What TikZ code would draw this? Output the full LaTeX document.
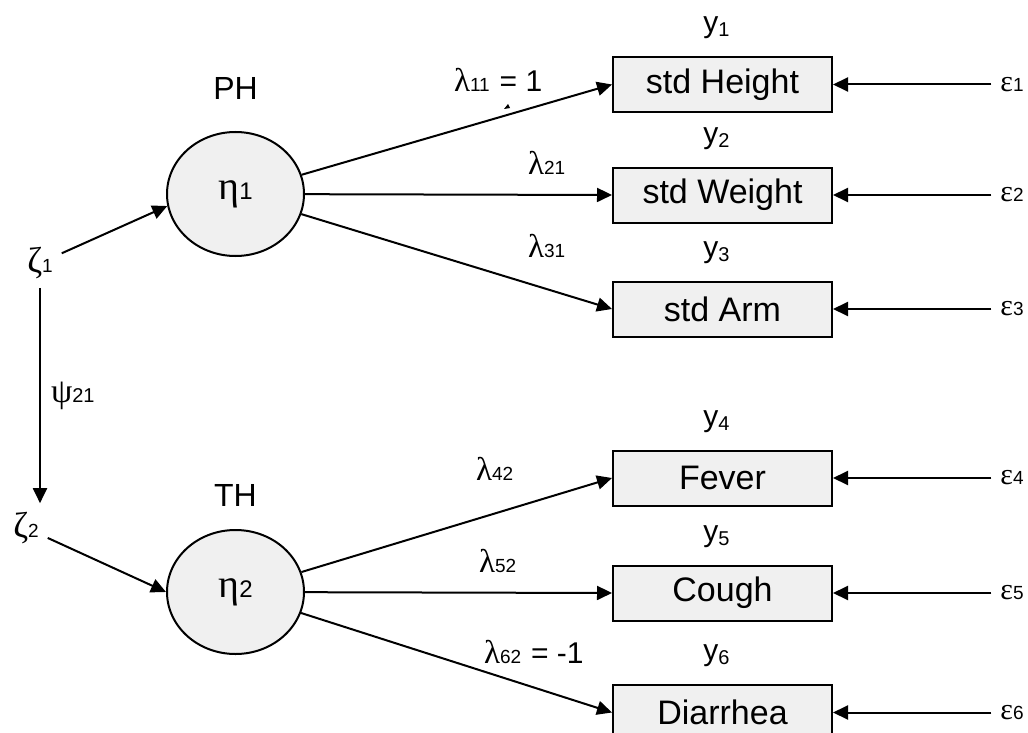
\documentclass[tikz,border=0pt]{standalone}
\usepackage{fontspec}
\setmainfont{Liberation Sans}
\newfontfamily\greekf{Liberation Serif}
\usetikzlibrary{positioning,shapes.geometric,arrows.meta}
\definecolor{fillgrey}{HTML}{F0F0F0}
\newcommand{\gsym}[2]{{\greekf\fontsize{#1}{#1}\selectfont #2}}
\newcommand{\dig}[2]{{\fontsize{#1}{#1}\selectfont #2}}

\begin{document}
\begin{tikzpicture}[x=0.5pt,y=-0.5pt,line width=1pt,>={Triangle[length=7.5pt,width=7pt]},
  obs/.style={draw,fill=fillgrey,minimum width=109.5pt,minimum height=27.5pt,inner sep=0pt,font=\fontsize{17}{17}\selectfont},
  lat/.style={draw,fill=fillgrey,ellipse,minimum width=68.5pt,minimum height=62pt,inner sep=0pt},
  lab/.style={inner sep=0pt},
  err/.style={inner sep=4pt},
  dist/.style={inner sep=4pt}]
\useasboundingbox (0,0) rectangle (1028,733);

% latent variables
\node[lat] (eta1) at (235.5,194) {\gsym{20}{η}\dig{12}{1}};
\node[lat] (eta2) at (235.5,592) {\gsym{20}{η}\dig{12}{2}};
\node[lab,above=15pt of eta1] (ph) {\fontsize{16}{16}\selectfont PH};
\node[lab,above=11pt of eta2] (th) {\fontsize{16}{16}\selectfont TH};

% disturbances
\node[dist] (zeta1) at (40,263) {\gsym{18}{ζ}\dig{9.5}{1}};
\node[dist] (zeta2) at (26,528) {\gsym{18}{ζ}\dig{9.5}{2}};
\draw[->] (zeta1) -- (eta1.190);
\draw[->] (zeta2) -- (eta2.west);
\draw[->] (zeta1.south) -- (zeta1.south |- zeta2.north)
  node[lab,midway,right=5pt] (psi) {\gsym{17}{ψ}\dig{10}{21}};

% indicators with their errors
\foreach \i/\t/\yy in {1/std Height/84.5, 2/std Weight/195, 3/std Arm/309,
                       4/Fever/478, 5/Cough/593, 6/Diarrhea/712.5}
  {\node[obs] (y\i) at (722.5,\yy) {\t};
  \node[lab,above=8pt of y\i,xshift=-3pt] (ylab\i)
    {\fontsize{15}{15}\selectfont y\raisebox{-2pt}{\fontsize{10}{10}\selectfont\i}};
  \node[err] (eps\i) at (1012,\yy) {\gsym{15}{ε}\dig{9.5}{\i}};
  \draw[->] (eps\i) -- (y\i);};

% loadings
\foreach \i in {1,2,3}
  \draw[->] (eta1) -- (y\i.west);
\foreach \i in {4,5,6}
  \draw[->] (eta2) -- (y\i.west);
\fill (504,109) -- (508,104) -- (510,108) -- cycle;

% loading labels
\node[lab,anchor=base west] (l11) at (453,92) {\gsym{16.5}{λ}\dig{9.5}{11}\hspace{5pt}\dig{15}{= 1}};
\node[lab,anchor=base west] (l21) at (527,175) {\gsym{16.5}{λ}\dig{9.5}{21}};
\node[lab,anchor=base west] (l31) at (527,257) {\gsym{16.5}{λ}\dig{9.5}{31}};
\node[lab,anchor=base west] (l42) at (475,480) {\gsym{16.5}{λ}\dig{9.5}{42}};
\node[lab,anchor=base west] (l52) at (478,572) {\gsym{16.5}{λ}\dig{9.5}{52}};
\node[lab,anchor=base west] (l62) at (483,663) {\gsym{16.5}{λ}\dig{9.5}{62}\hspace{5pt}\dig{15}{= -1}};
\end{tikzpicture}
\end{document}
